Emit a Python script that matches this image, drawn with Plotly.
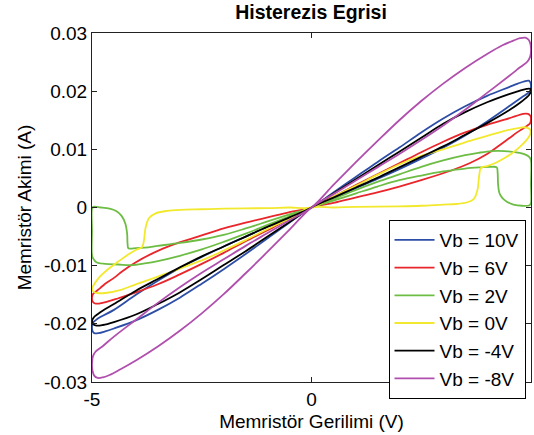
import plotly.graph_objects as go

# Memristor current-voltage hysteresis loops for several bias voltages (Vb).
# Each loop is traced: origin -> positive lobe (out and back) -> negative lobe (out and back).

v_10 = [0, 0.5, 1, 1.5, 2, 2.5, 3, 3.5, 4, 4.5, 4.7, 4.85, 4.95, 4.99, 5.0, 4.98, 4.92,
        4.8, 4.5, 4, 3.5, 3, 2.5, 2, 1.5, 1, 0.5, 0,
        -0.5, -1, -1.5, -2, -2.5, -3, -3.5, -4, -4.5, -4.7, -4.85, -4.95, -4.99, -5.0, -4.98, -4.92,
        -4.8, -4.5, -4, -3.5, -3, -2.5, -2, -1.5, -1, -0.5, 0]
i_10 = [0, 0.0026, 0.0052, 0.0078, 0.0103, 0.0129, 0.0153, 0.0174, 0.0192, 0.0207, 0.0213, 0.0217, 0.0218, 0.0214, 0.0208, 0.0201, 0.0196,
        0.0190, 0.0174, 0.0148, 0.0124, 0.0103, 0.0084, 0.0066, 0.0049, 0.0033, 0.0016, 0,
        -0.0026, -0.0053, -0.0080, -0.0106, -0.0131, -0.0155, -0.0176, -0.0194, -0.0208, -0.0213, -0.0216, -0.0216, -0.0212, -0.0205, -0.0198, -0.0194,
        -0.0188, -0.0176, -0.0150, -0.0126, -0.0104, -0.0085, -0.0067, -0.0050, -0.0033, -0.0017, 0]

v_6 = [0, 0.5, 1, 1.5, 2, 2.5, 3, 3.5, 4, 4.4, 4.65, 4.82, 4.93, 4.99, 5.0, 4.98, 4.92,
       4.82, 4.7, 4.5, 4.3, 4, 3.6, 3.2, 2.5, 2, 1.5, 1, 0.5, 0,
       -0.5, -1, -1.5, -2, -2.5, -3, -3.5, -4, -4.4, -4.65, -4.82, -4.93, -4.99, -5.0, -4.98, -4.92,
       -4.82, -4.7, -4.5, -4.3, -4, -3.6, -3.2, -2.5, -2, -1.5, -1, -0.5, 0]
i_6 = [0, 0.0019, 0.0038, 0.0057, 0.0076, 0.0095, 0.0113, 0.0129, 0.0142, 0.0151, 0.0157, 0.0161, 0.0161, 0.0157, 0.0151, 0.0145, 0.0141,
       0.0136, 0.0130, 0.0119, 0.0108, 0.0092, 0.0076, 0.0064, 0.0047, 0.0036, 0.0026, 0.0017, 0.0008, 0,
       -0.0019, -0.0039, -0.0058, -0.0078, -0.0097, -0.0115, -0.0132, -0.0146, -0.0156, -0.0162, -0.0165, -0.0165, -0.0161, -0.0155, -0.0149, -0.0145,
       -0.0139, -0.0131, -0.0121, -0.0109, -0.0094, -0.0078, -0.0065, -0.0048, -0.0036, -0.0026, -0.0017, -0.0008, 0]

v_2 = [0, 0.5, 1, 1.5, 2, 2.5, 3, 3.5, 3.8, 4.1, 4.4, 4.74, 4.9, 4.97, 5.0,
       5.0, 5.0, 4.97, 4.8, 4.6, 4.45, 4.35, 4.28, 4.25, 4.24, 4.22,
       4.1, 3.85, 3.5, 3.2, 3, 2.5, 2, 1.5, 1, 0.5, 0,
       -0.5, -1, -1.5, -2, -2.5, -3, -3.5, -3.8, -4.1, -4.4, -4.7, -4.9, -4.97, -5.0,
       -5.0, -5.0, -4.97, -4.8, -4.6, -4.45, -4.33, -4.24, -4.2, -4.19, -4.17,
       -4.0, -3.8, -3.5, -3, -2.5, -2, -1.5, -1, -0.5, 0]
i_2 = [0, 0.0015, 0.0030, 0.0044, 0.0057, 0.0070, 0.0081, 0.0090, 0.0094, 0.0097, 0.0097, 0.0094, 0.0090, 0.0086, 0.0081,
       0.0040, 0.0008, 0.0004, 0.0003, 0.0005, 0.0010, 0.0016, 0.0025, 0.0040, 0.0060, 0.0069,
       0.0070, 0.0069, 0.0067, 0.0064, 0.0062, 0.0055, 0.0047, 0.0036, 0.0024, 0.0012, 0,
       -0.0015, -0.0030, -0.0045, -0.0059, -0.0072, -0.0083, -0.0092, -0.0096, -0.0099, -0.0098, -0.0097, -0.0094, -0.0088, -0.0082,
       -0.0040, -0.0002, 0.0001, 0.0000, -0.0002, -0.0006, -0.0014, -0.0028, -0.0045, -0.0062, -0.0070,
       -0.0070, -0.0069, -0.0066, -0.0061, -0.0055, -0.0047, -0.0036, -0.0024, -0.0012, 0]

v_0 = [0, 0.5, 1, 2, 2.5, 3, 3.3, 3.55, 3.7, 3.78, 3.82, 3.86,
       4.0, 4.2, 4.4, 4.6, 4.8, 4.93, 4.99, 4.98, 4.92, 4.85, 4.74, 4.36, 4, 3.5, 3, 2.5, 2, 1.5, 1, 0.5, 0,
       -0.5, -1, -2, -2.5, -3, -3.3, -3.55, -3.7, -3.78, -3.82, -3.86,
       -4.0, -4.2, -4.4, -4.6, -4.82, -4.95, -5.0, -4.96, -4.88, -4.7, -4.32, -4, -3.5, -3, -2.5, -2, -1.5, -1, -0.5, 0]
i_0 = [0, 0.0000, 0.0001, 0.0002, 0.0003, 0.0005, 0.0006, 0.0009, 0.0015, 0.0030, 0.0055, 0.0068,
       0.0071, 0.0077, 0.0085, 0.0095, 0.0108, 0.0119, 0.0128, 0.0134, 0.0137, 0.0138, 0.0137, 0.0131, 0.0123, 0.0112, 0.0100, 0.0089, 0.0074, 0.0056, 0.0037, 0.0019, 0,
       -0.0000, -0.0001, -0.0002, -0.0003, -0.0004, -0.0006, -0.0010, -0.0018, -0.0035, -0.0058, -0.0068,
       -0.0073, -0.0082, -0.0093, -0.0104, -0.0119, -0.0132, -0.0140, -0.0145, -0.0147, -0.0147, -0.0141, -0.0132, -0.0119, -0.0105, -0.0091, -0.0074, -0.0056, -0.0037, -0.0019, 0]

v_m4 = [0, 0.5, 1, 1.5, 2, 2.5, 3, 3.5, 4, 4.5, 4.75, 4.9, 4.98, 5.0, 4.96, 4.88,
        4.75, 4.5, 4, 3.5, 3, 2.5, 2, 1.5, 1, 0.5, 0,
        -0.5, -1, -1.5, -2, -2.5, -3, -3.5, -4, -4.5, -4.75, -4.9, -4.98, -5.0, -4.96, -4.88,
        -4.75, -4.5, -4, -3.5, -3, -2.5, -2, -1.5, -1, -0.5, 0]
i_m4 = [0, 0.0024, 0.0048, 0.0072, 0.0096, 0.0120, 0.0144, 0.0164, 0.0181, 0.0195, 0.0201, 0.0204, 0.0204, 0.0201, 0.0194, 0.0188,
        0.0180, 0.0167, 0.0145, 0.0125, 0.0105, 0.0087, 0.0069, 0.0051, 0.0034, 0.0017, 0,
        -0.0025, -0.0050, -0.0075, -0.0099, -0.0123, -0.0146, -0.0166, -0.0184, -0.0197, -0.0202, -0.0203, -0.0200, -0.0195, -0.0189, -0.0184,
        -0.0177, -0.0166, -0.0143, -0.0123, -0.0103, -0.0084, -0.0067, -0.0050, -0.0033, -0.0017, 0]

v_m8 = [0, 0.5, 1, 1.5, 2, 2.5, 3, 3.5, 4, 4.35, 4.6, 4.75, 4.87, 4.95, 4.99, 5.0, 4.98, 4.92,
        4.75, 4.5, 4, 3.5, 3, 2.5, 2, 1.5, 1, 0.5, 0,
        -0.5, -1, -1.5, -2, -2.5, -3, -3.5, -4, -4.35, -4.6, -4.75, -4.87, -4.95, -4.99, -5.0, -4.98, -4.92,
        -4.75, -4.5, -4, -3.5, -3, -2.5, -2, -1.5, -1, -0.5, 0]
i_m8 = [0, 0.0039, 0.0077, 0.0114, 0.0150, 0.0183, 0.0213, 0.0240, 0.0264, 0.0279, 0.0287, 0.0291, 0.0292, 0.0288, 0.0280, 0.0269, 0.0259, 0.0251,
        0.0241, 0.0226, 0.0197, 0.0168, 0.0141, 0.0116, 0.0092, 0.0069, 0.0046, 0.0023, 0,
        -0.0038, -0.0076, -0.0113, -0.0149, -0.0182, -0.0212, -0.0239, -0.0263, -0.0278, -0.0288, -0.0292, -0.0293, -0.0289, -0.0280, -0.0268, -0.0256, -0.0248,
        -0.0238, -0.0222, -0.0193, -0.0164, -0.0137, -0.0112, -0.0089, -0.0066, -0.0044, -0.0022, 0]

series_names = ["Vb = 10V", "Vb = 6V", "Vb = 2V", "Vb = 0V", "Vb = -4V", "Vb = -8V"]
series_v = [v_10, v_6, v_2, v_0, v_m4, v_m8]
series_i = [i_10, i_6, i_2, i_0, i_m4, i_m8]
series_colors = ["#2d4ea6", "#e8262b", "#6dbd45", "#f2e92e", "#000000", "#b04fad"]

y_ticks = [-0.03, -0.02, -0.01, 0, 0.01, 0.02, 0.03]
y_tick_text = ["-0.03", "-0.02", "-0.01", "0", "0.01", "0.02", "0.03"]
x_ticks = [-5, 0, 5]
x_tick_text = ["-5", "0", "5"]

FONT = "Arial, Liberation Sans, Helvetica, sans-serif"

fig = go.Figure()
for name, vs, cs, col in zip(series_names, series_v, series_i, series_colors):
    fig.add_trace(go.Scatter(
        x=vs, y=cs, name=name, mode="lines",
        line=dict(color=col, width=1.8, shape="spline", smoothing=1.0),
    ))

axis_common = dict(
    showline=True, linecolor="#222222", linewidth=1, mirror="ticks",
    ticks="inside", ticklen=5, tickwidth=1, tickcolor="#222222",
    showgrid=False, zeroline=False, automargin=False,
    tickfont=dict(family=FONT, size=19, color="#000000"),
)

fig.update_layout(
    width=534, height=435,
    margin=dict(l=92, r=2.5, t=33, b=53, autoexpand=False),
    paper_bgcolor="white", plot_bgcolor="white",
    font=dict(family=FONT, size=19, color="#000000"),
    title=dict(text="<b>Histerezis Egrisi</b>", x=0.5824, xanchor="center",
               y=1 - 12.5 / 435, yanchor="middle", yref="container",
               font=dict(family=FONT, size=19.5, color="#000000")),
    xaxis=dict(range=[-5, 5], tickvals=x_ticks, ticktext=x_tick_text,
               title=dict(text="Memristör Gerilimi (V)", standoff=5,
                          font=dict(family=FONT, size=19)),
               **axis_common),
    yaxis=dict(range=[-0.03, 0.03], tickvals=y_ticks, ticktext=y_tick_text,
               title=dict(text="Memristör Akimi (A)", standoff=7,
                          font=dict(family=FONT, size=19)),
               **axis_common),
    legend=dict(x=0.9875, xanchor="right", y=0.464, yanchor="top",
                bgcolor="white", bordercolor="#000000", borderwidth=1,
                font=dict(family=FONT, size=19), tracegroupgap=0,
                itemwidth=40),
    showlegend=True,
)

fig.write_html("out.html")
